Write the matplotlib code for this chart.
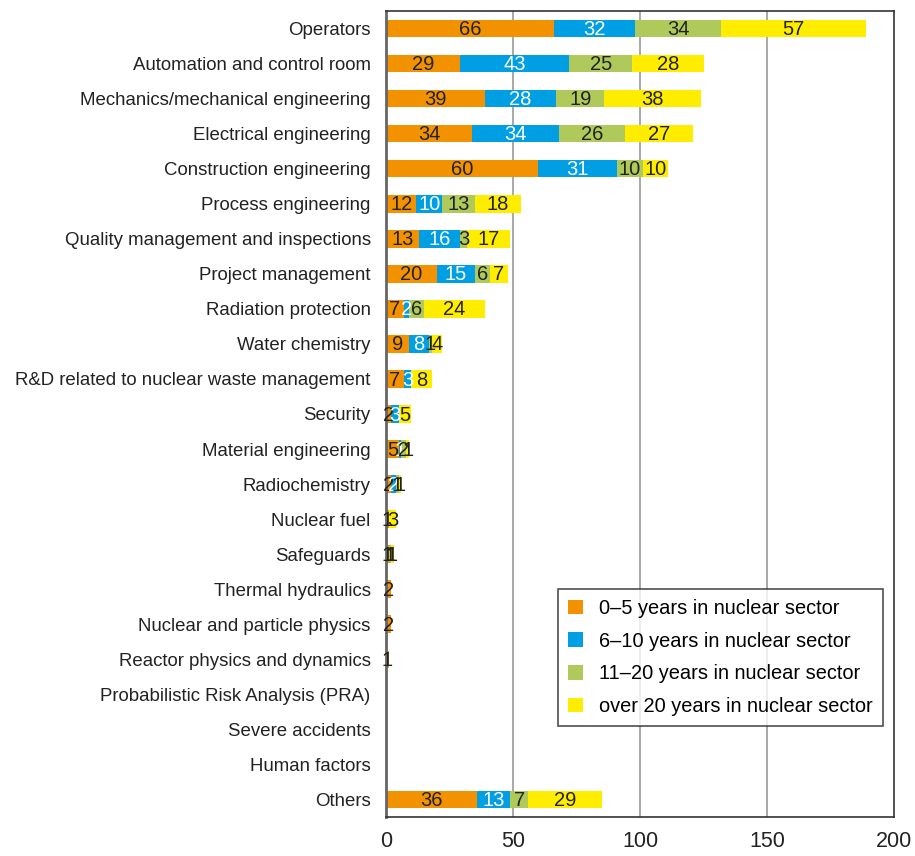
import matplotlib
matplotlib.use("Agg")
import matplotlib.pyplot as plt
import numpy as np

plt.rcParams['font.family'] = ['Liberation Sans', 'DejaVu Sans']

categories = ["Operators", "Automation and control room", "Mechanics/mechanical engineering",
              "Electrical engineering", "Construction engineering", "Process engineering",
              "Quality management and inspections", "Project management", "Radiation protection",
              "Water chemistry", "R&D related to nuclear waste management", "Security",
              "Material engineering", "Radiochemistry", "Nuclear fuel", "Safeguards",
              "Thermal hydraulics", "Nuclear and particle physics", "Reactor physics and dynamics",
              "Probabilistic Risk Analysis (PRA)", "Severe accidents", "Human factors", "Others"]

y0_5 = [66, 29, 39, 34, 60, 12, 13, 20, 7, 9, 7, 2, 5, 2, 1, 1, 2, 2, 1, 0, 0, 0, 36]
y6_10 = [32, 43, 28, 34, 31, 10, 16, 15, 2, 8, 3, 3, 1, 2, 0, 0, 0, 0, 0, 0, 0, 0, 13]
y11_20 = [34, 25, 19, 26, 10, 13, 3, 6, 6, 1, 0, 0, 2, 1, 0, 1, 0, 0, 0, 0, 0, 0, 7]
y20p = [57, 28, 38, 27, 10, 18, 17, 7, 24, 4, 8, 5, 1, 1, 3, 1, 0, 0, 0, 0, 0, 0, 29]

series = [y0_5, y6_10, y11_20, y20p]
names = ["0\u20135 years in nuclear sector", "6\u201310 years in nuclear sector",
         "11\u201320 years in nuclear sector", "over 20 years in nuclear sector"]
colors = ["#F39200", "#009FE3", "#AFCA5B", "#FFED00"]
txtcol = ["#222222", "white", "#222222", "#222222"]

fig = plt.figure(figsize=(9.15, 8.56), dpi=100)
ax = fig.add_axes([386/915, 1-817/856, (894-386)/915, (817-11)/856])

y = np.arange(len(categories))
left = np.zeros(len(categories))
for vals, name, c, tc in zip(series, names, colors, txtcol):
    vals = np.array(vals, dtype=float)
    ax.barh(y, vals, left=left, height=0.5, color=c, label=name, zorder=2)
    for i, v in enumerate(vals):
        if v > 0:
            ax.text(left[i] + v/2, y[i] + 0.03, "%d" % v, ha='center', va='center',
                    color=tc, fontsize=14.5, zorder=3)
    left += vals

ax.set_xlim(0, 200)
ax.set_ylim(len(categories) - 0.5, -0.5)
ax.set_xticks([0, 50, 100, 150, 200])
ax.set_yticks(y)
ax.set_yticklabels(categories)
ax.tick_params(axis='both', length=0, colors='#222222')
ax.tick_params(axis='y', labelsize=13.4, pad=11)
ax.tick_params(axis='x', labelsize=15.5, pad=10)
for x in [50, 100, 150]:
    ax.axvline(x, color='#999999', linewidth=1.2, zorder=1)
for s in ax.spines.values():
    s.set_color('#333333')
    s.set_linewidth(1.2)
ax.spines['left'].set_color('#666666')
ax.spines['left'].set_linewidth(2)

leg = ax.legend(loc='lower right', bbox_to_anchor=(0.978, 0.113), borderaxespad=0,
                fontsize=14.4, frameon=True, fancybox=False, handlelength=0.75,
                handleheight=0.75, labelspacing=0.68, borderpad=0.5, handletextpad=0.8)
leg.get_frame().set_edgecolor('#222222')
leg.get_frame().set_linewidth(1.2)

fig.savefig("out.png", dpi=100)
